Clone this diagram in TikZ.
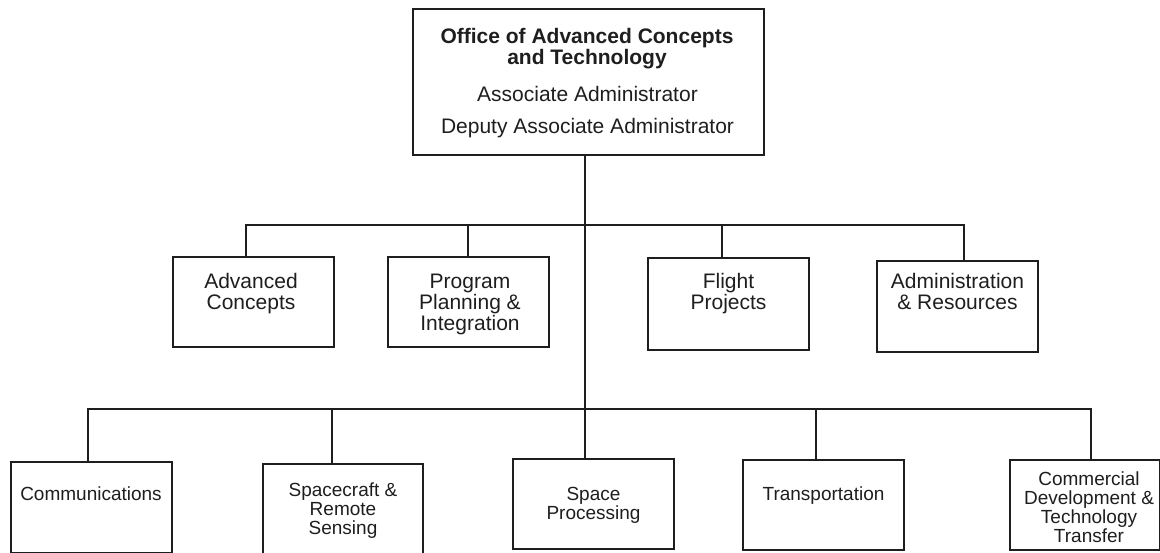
\documentclass[tikz,border=0pt]{standalone}
\usepackage{fontspec}
\setmainfont{Liberation Sans}
\definecolor{ink}{HTML}{1E1E1E}
\begin{document}
\begin{tikzpicture}[x=1pt, y=-1pt,
  unit/.style={draw=ink, line width=2pt, minimum width=161pt, minimum height=90pt, inner sep=0pt},
  wire/.style={draw=ink, line width=2pt},
  txt/.style={align=center, anchor=base, inner sep=0pt, text=ink},
  bigtxt/.style={txt, font=\fontsize{21}{21}\selectfont},
  smalltxt/.style={txt, font=\fontsize{19}{19}\selectfont}]
  \useasboundingbox (0,0) rectangle (1160,552);
  % boxes
  \node[unit, minimum width=351pt, minimum height=146pt] (oact) at (588.5,82) {};
  \node[unit] (advc) at (253.5,302) {};
  \node[unit] (ppi) at (468.5,302) {};
  \node[unit, minimum height=92pt] (flt) at (728.5,304) {};
  \node[unit, minimum height=91pt] (adm) at (957.5,306.5) {};
  \node[unit, minimum height=91pt] (comm) at (91.5,507.5) {};
  \node[unit, minimum width=160pt, minimum height=91pt] (spc) at (343,509.5) {};
  \node[unit] (spp) at (593.5,503.5) {};
  \node[unit] (trn) at (823.5,505) {};
  \node[unit, minimum width=150pt] (cdt) at (1085,505) {};
  % texts (base = last line)
  \node[bigtxt, font=\bfseries\fontsize{21}{19}\selectfont] (oact-a) at (587,64) {Office of Advanced Concepts\\and Technology};
  \node[bigtxt] (oact-b) at (587.5,101) {Associate Administrator};
  \node[bigtxt] (oact-c) at (587.5,133) {Deputy Associate Administrator};
  \node[bigtxt] (advc-t) at (251,309) {Advanced\\Concepts};
  \node[bigtxt] (ppi-t) at (470,330) {Program\\Planning \&\\Integration};
  \node[bigtxt] (flt-t) at (728.5,309) {Flight\\Projects};
  \node[bigtxt] (adm-t) at (957.5,309) {Administration\\\& Resources};
  \node[smalltxt] (comm-t) at (91,500.5) {Communications};
  \node[smalltxt] (spc-t) at (343,534) {Spacecraft \&\\Remote\\Sensing};
  \node[smalltxt] (spp-t) at (593.5,519) {Space\\Processing};
  \node[smalltxt] (trn-t) at (823.5,500.5) {Transportation};
  \node[smalltxt] (cdt-t) at (1089,542) {Commercial\\Development \&\\Technology\\Transfer};
  % connectors
  \coordinate (mbus) at (585,225);
  \coordinate (lbus) at (585,409);
  \draw[wire] (oact.south -| mbus) -- (spp.north -| lbus);
  \foreach \n/\x in {advc/246, ppi/468, flt/722, adm/964}
    \coordinate (\n-s) at (\x,225);
  \foreach \n/\x in {comm/88, spc/332, trn/816, cdt/1091}
    \coordinate (\n-s) at (\x,409);
  \draw[wire] (advc-s |- advc.north) -- (advc-s) -- (adm-s) -- (adm-s |- adm.north);
  \draw[wire] (comm-s |- comm.north) -- (comm-s) -- (cdt-s) -- (cdt-s |- cdt.north);
  \foreach \n in {ppi, flt, spc, trn}
    \draw[wire] (\n-s) -- (\n-s |- \n.north);
\end{tikzpicture}
\end{document}
